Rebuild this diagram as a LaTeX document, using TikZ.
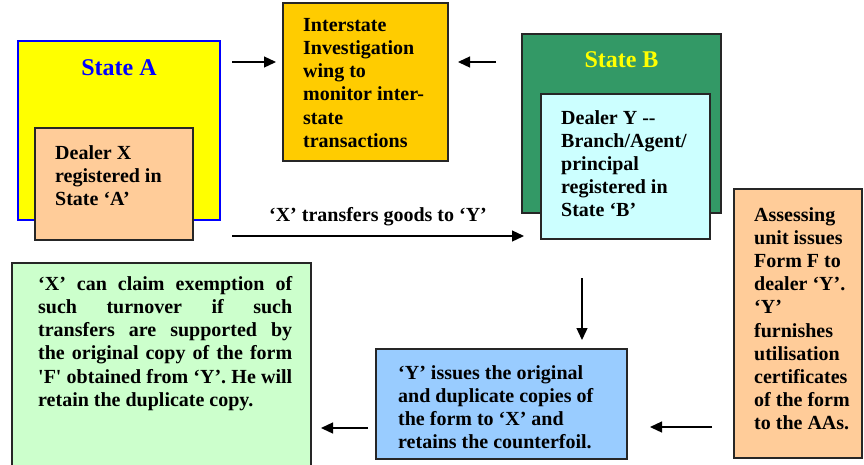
\documentclass[tikz,border=0pt]{standalone}
\usepackage{fontspec}
\setmainfont{Liberation Serif}[Ligatures=TeXOff]
\usetikzlibrary{arrows.meta,calc}
\definecolor{stateAfill}{HTML}{FFFF00}
\definecolor{stateAline}{HTML}{0000FF}
\definecolor{peach}{HTML}{FFCC99}
\definecolor{gold}{HTML}{FFCC00}
\definecolor{stateBfill}{HTML}{339966}
\definecolor{paleCyan}{HTML}{CCFFFF}
\definecolor{paleGreen}{HTML}{CCFFCC}
\definecolor{paleBlue}{HTML}{99CCFF}
\begin{document}
\begin{tikzpicture}[x=1pt,y=-1pt,
  panel/.style={draw=black!85, line width=1.2pt, anchor=north west, inner sep=0pt, outer sep=0pt},
  txt/.style={anchor=north west, inner sep=0pt, align=left,
              font=\fontsize{20}{23.2}\selectfont\bfseries},
  title/.style={inner sep=0pt, font=\fontsize{24}{28}\selectfont\bfseries},
  arr/.style={line width=1.3pt, -{Triangle[length=12pt,width=11pt]}}]
\useasboundingbox (0,0) rectangle (864,464);

% State A with dealer X
\node[panel, draw=stateAline, fill=stateAfill, minimum width=202pt, minimum height=179pt] (stA) at (18,41) {};
\node[title, text=stateAline] (stAlbl) at ($(stA.north)+(0,27)$) {State A};
\node[panel, fill=peach, minimum width=158pt, minimum height=112pt] (dX) at (35,128) {};
\node[txt] (dXtxt) at ($(dX.north west)+(20,17)$) {Dealer X\\registered in\\State ‘A’};

% Interstate investigation wing
\node[panel, fill=gold, minimum width=165pt, minimum height=158pt] (inv) at (283,3) {};
\node[txt] (invtxt) at ($(inv.north west)+(20,15)$) {Interstate\\Investigation\\wing to\\monitor inter-\\state\\transactions};

% State B with dealer Y
\node[panel, fill=stateBfill, minimum width=199pt, minimum height=179pt] (stB) at (522,34) {};
\node[title, text=stateAfill] (stBlbl) at ($(stB.north)+(0,26)$) {State B};
\node[panel, fill=paleCyan, minimum width=169pt, minimum height=145pt] (dY) at (541,94) {};
\node[txt] (dYtxt) at ($(dY.north west)+(20,16)$) {Dealer Y --\\Branch/Agent/\\principal\\registered in\\State ‘B’};

% Assessing unit
\node[panel, fill=peach, minimum width=128pt, minimum height=269pt] (as) at (734,189) {};
\node[txt] (astxt) at ($(as.north west)+(20,18)$) {Assessing\\unit issues\\Form F to\\dealer ‘Y’.\\‘Y’\\furnishes\\utilisation\\certificates\\of the form\\to the AAs.};

% Form issued by Y
\node[panel, fill=paleBlue, minimum width=251pt, minimum height=110pt] (fy) at (376,349) {};
\node[txt] (fytxt) at ($(fy.north west)+(22,16)$) {‘Y’ issues the original\\and duplicate copies of\\the form to ‘X’ and\\retains the counterfoil.};

% Exemption claimed by X
\node[panel, fill=paleGreen, minimum width=299pt, minimum height=215pt] (ex) at (12,263) {};
\node[txt, text width=254pt, align=justify] (extxt) at ($(ex.north west)+(26,13)$)
  {‘X’ can claim exemption of\linebreak such turnover if such\linebreak transfers are supported by\linebreak the original copy of the form\linebreak 'F' obtained from ‘Y’. He will\linebreak retain the duplicate copy.};

% Connectors
\draw[arr] ($(stA.north east)+(12,21)$) -- ($(inv.north west)+(-7,59)$);
\draw[arr] ($(stB.north west)+(-26,28)$) -- ($(inv.north east)+(10,59)$);
\draw[arr] ($(stA.south east)+(12,16)$) -- node[above=9pt, inner sep=0pt, font=\fontsize{20}{23.2}\selectfont\bfseries] (lbl) {‘X’ transfers goods to ‘Y’} ($(dY.south west)+(-17,-3)$);
\draw[arr] ($(dY.south west)+(41,39)$) -- ($(fy.north west)+(206,-9)$);
\draw[arr] ($(as.south west)+(-22,-31)$) -- ($(fy.south east)+(23,-32)$);
\draw[arr] ($(fy.south west)+(-8,-31)$) -- ($(ex.north east)+(10,165)$);
\end{tikzpicture}
\end{document}
